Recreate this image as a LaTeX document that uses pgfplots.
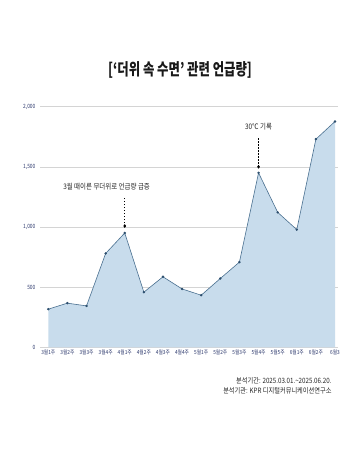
\documentclass[border=0pt]{standalone}
\usepackage{fontspec}
\usepackage{pgfplots}
\pgfplotsset{compat=1.18}
\setmainfont{Noto Sans CJK KR}
\newfontfamily\condfont{Noto Sans CJK KR}[FakeStretch=0.85]
\newfontfamily\titlefont{Noto Sans CJK KR}[FakeStretch=0.75]
\definecolor{navy}{HTML}{2E3A6E}
\definecolor{linecol}{HTML}{4A7090}
\definecolor{markcol}{HTML}{2D4F6E}
\definecolor{fillcol}{HTML}{C8DCEC}
\definecolor{gridcol}{HTML}{D4D4D4}
\begin{document}
\begin{tikzpicture}[x=1pt,y=1pt]
\path[fill=white] (0,0) rectangle (359,454);
\node[font=\titlefont\bfseries\fontsize{16.5}{18}\selectfont, text=black!90] at (180,384) {[‘더위 속 수면’ 관련 언급량]};
\begin{axis}[
  at={(40pt,106.7pt)}, anchor=south west,
  scale only axis, width=298pt, height=240.6pt,
  xmin=-0.434, xmax=15.157, ymin=0, ymax=2000,
  axis line style={draw=none},
  clip=false,
  ytick={0,500,1000,1500,2000},
  ymajorgrids, grid style={gridcol, line width=0.5pt},
  major tick length=0pt,
  xtick={0,...,15},
  xticklabels={3월1주,3월2주,3월3주,3월4주,4월1주,4월2주,4월3주,4월4주,5월1주,5월2주,5월3주,5월4주,5월5주,6월1주,6월2주,6월3},
  /pgf/number format/assume math mode=true,
  /pgf/number format/1000 sep={,},
  yticklabel style={font=\condfont\fontsize{5.8}{6}\selectfont, text=navy, xshift=-1pt},
  xticklabel style={font=\condfont\fontsize{5.6}{6}\selectfont, text=navy, yshift=1pt},
]
\addplot[fill=fillcol, draw=none] coordinates {
(0,317) (1,367) (2,344) (3,780) (4,950) (5,458) (6,586) (7,485) (8,433) (9,572) (10,708) (11,1450) (12,1122) (13,978) (14,1730) (15,1877)
} \closedcycle;
\addplot[linecol, line width=0.6pt, mark=*, mark size=0.9pt, mark options={fill=markcol, draw=markcol}] coordinates {
(0,317) (1,367) (2,344) (3,780) (4,950) (5,458) (6,586) (7,485) (8,433) (9,572) (10,708) (11,1450) (12,1122) (13,978) (14,1730) (15,1877)
};
\draw[black, line width=0.9pt, dash pattern=on 1.5pt off 1.5pt] (axis cs:4,1008) -- (axis cs:4,1250);
\fill[black] (axis cs:4,1008) ellipse[x radius=1.4pt, y radius=1.9pt];
\node[font=\condfont\fontsize{7.6}{8}\selectfont, text=black!85] at (axis cs:3.05,1335) {3월 때이른 무더위로 언급량 급증};
\draw[black, line width=0.9pt, dash pattern=on 1.5pt off 1.5pt] (axis cs:11,1500) -- (axis cs:11,1740);
\fill[black] (axis cs:11,1500) ellipse[x radius=1.4pt, y radius=1.9pt];
\node[font=\condfont\fontsize{7.6}{8}\selectfont, text=black!85] at (axis cs:11,1831) {30℃ 기록};
\end{axis}
\node[anchor=east, font=\condfont\fontsize{7.3}{8}\selectfont, text=black!85] at (335,73) {분석기간: 2025.03.01.\textasciitilde 2025.06.20.};
\node[anchor=east, font=\condfont\fontsize{7.3}{8}\selectfont, text=black!85] at (335,63) {분석기관: KPR 디지털커뮤니케이션연구소};
\end{tikzpicture}
\end{document}
